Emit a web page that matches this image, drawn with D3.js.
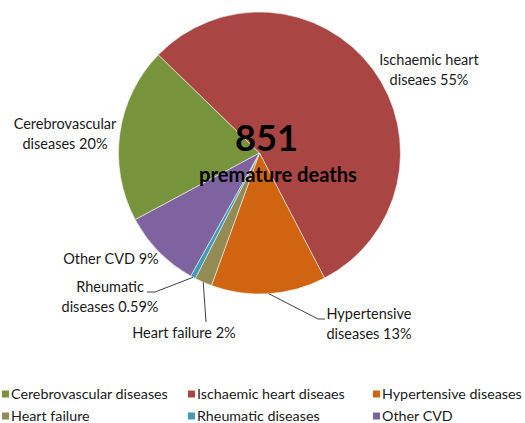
<!DOCTYPE html>
<html><head><meta charset="utf-8">
<script src="https://cdn.jsdelivr.net/npm/d3@7"></script>
<style>
html,body{margin:0;padding:0;background:#fff;}
svg{display:block;}
text{font-family:Lato,"Open Sans",sans-serif;fill:#1a1a1a;}
</style></head>
<body>
<svg id="c" width="525" height="423"></svg>
<script>
// ---- data ----
const categories = ["Cerebrovascular diseases","Ischaemic heart diseaes","Hypertensive diseases","Heart failure","Rheumatic diseases","Other CVD"];
const deaths = [171, 469, 112, 17, 5, 77];
const labelLines = [
  ["Cerebrovascular","diseases 20%"],
  ["Ischaemic heart","diseaes 55%"],
  ["Hypertensive","diseases 13%"],
  ["Heart failure 2%"],
  ["Rheumatic","diseases 0.59%"],
  ["Other CVD 9%"]
];
const totalLabel = "851";
const subLabel = "premature deaths";
const colors = ["#77933C","#A94643","#D06410","#948A54","#3C9DB5","#7F62A0"];

// ---- layout ----
const W = 525, H = 423;
const cx = 259.5, cy = 153, R = 141;
const startDeg = 241.8;
// label first-line centers and leader elbows (null = no leader)
const labelPos = [
  {x:65, y:123.5, leader:null},
  {x:429, y:60, leader:null},
  {x:369, y:314, leader:[[318,319],[325,319]]},
  {x:184, y:333, leader:[[206,322]]},
  {x:110, y:287, leader:[[155,292],[147,292]]},
  {x:111, y:259, leader:null}
];

const svg = d3.select("#c");
const pie = d3.pie().sort(null).value(d=>d)
  .startAngle(startDeg*Math.PI/180).endAngle((startDeg+360)*Math.PI/180);
const arcs = pie(deaths);
const arc = d3.arc().innerRadius(0).outerRadius(R);

const g = svg.append("g").attr("transform",`translate(${cx},${cy})`);
g.selectAll("path").data(arcs).join("path")
  .attr("d",arc)
  .attr("fill",(d,i)=>colors[i])
  .attr("stroke","#f2f2f2").attr("stroke-width",0.6);

// leader lines
const lineGen = d3.line();
arcs.forEach((a,i)=>{
  const lp = labelPos[i];
  if(!lp.leader) return;
  const mid = (a.startAngle+a.endAngle)/2;
  const p0 = [cx + R*Math.sin(mid), cy - R*Math.cos(mid)];
  svg.append("path").attr("d", lineGen([p0, ...lp.leader]))
    .attr("fill","none").attr("stroke","#404040").attr("stroke-width",1);
});

// data labels
arcs.forEach((a,i)=>{
  const lp = labelPos[i];
  const lines = labelLines[i];
  const lh = 20;
  const t = svg.append("text").attr("text-anchor","middle").attr("font-size",14.5);
  lines.forEach((s,k)=>{
    t.append("tspan").attr("x",lp.x).attr("y",lp.y+k*lh).attr("dy","0.35em").text(s);
  });
});

// center text, fitted to target widths
function fitText(sel, target){
  const w = sel.node().getComputedTextLength();
  const fs = parseFloat(sel.attr("font-size"));
  sel.attr("font-size", fs*target/w);
}
const t1 = svg.append("text").attr("x",266.5).attr("y",151).attr("text-anchor","middle")
  .attr("font-weight","bold").attr("font-size",37).style("fill","#000").text(totalLabel);
fitText(t1, 63);
const t2 = svg.append("text").attr("x",278).attr("y",181.5).attr("text-anchor","middle")
  .attr("font-weight","bold").attr("font-size",18).style("fill","#000").text(subLabel);
fitText(t2, 158);

// legend
const colX = [2,188,373], rowY = [394,416];
const lg = svg.append("g");
categories.forEach((c,i)=>{
  const x = colX[i%3], y = rowY[Math.floor(i/3)];
  lg.append("rect").attr("x",x).attr("y",y-3.5).attr("width",7).attr("height",7).attr("fill",colors[i]);
  lg.append("text").attr("x",x+9).attr("y",y).attr("dy","0.35em").attr("font-size",14.3).text(c);
});
</script>
</body></html>
